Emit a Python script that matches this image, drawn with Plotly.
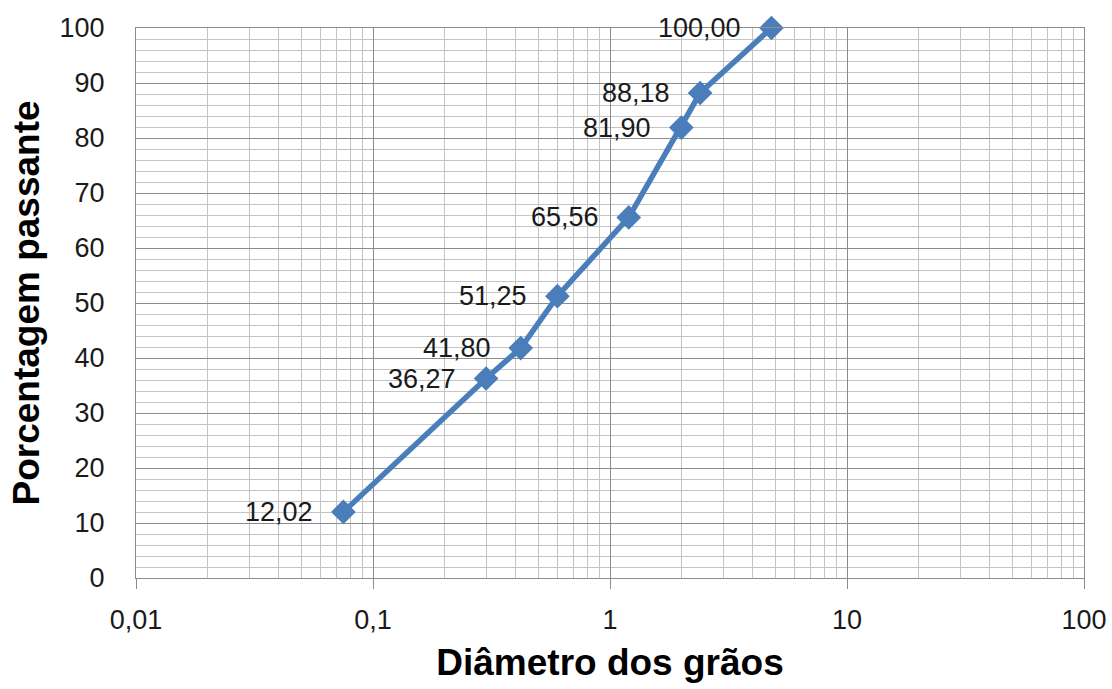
import numpy as np
import plotly.graph_objects as go

# Granulometric curve: sieve opening (mm) vs percentage passing
diametro = [0.075, 0.3, 0.42, 0.6, 1.2, 2.0, 2.4, 4.8]
passante = [12.02, 36.27, 41.80, 51.25, 65.56, 81.90, 88.18, 100.00]
rotulos = [f"{v:.2f}".replace(".", ",") for v in passante]

x_ticks = [0.01, 0.1, 1, 10, 100]
x_tick_text = ["0,01", "0,1", "1", "10", "100"]
y_ticks = list(range(0, 101, 10))

minor_x = [m * 10 ** e for e in range(-2, 2) for m in range(2, 10)]
minor_y = [v for v in range(0, 101, 2) if v % 10]

line_color = "#4a7ebb"
font_family = "Liberation Sans, Arial"

fig = go.Figure()
fig.add_trace(go.Scatter(
    x=diametro, y=passante,
    mode="lines+markers",
    line=dict(color=line_color, width=5.5),
    marker=dict(symbol="diamond", size=19, color=line_color),
    cliponaxis=False,
    showlegend=False,
))

# value labels placed to the left of each point (annotation x on a log axis is log10)
for xv, yv, txt in zip(diametro, passante, rotulos):
    fig.add_annotation(
        x=np.log10(xv), y=yv, xref="x", yref="y",
        text=txt, showarrow=False,
        xanchor="right", yanchor="middle",
        xshift=-28,
        font=dict(family=font_family, size=27, color="#1a1a1a"),
    )

tick_font = dict(family=font_family, size=27, color="#1a1a1a")
title_font = dict(family=font_family, size=37, color="#000000")

fig.update_xaxes(
    type="log",
    range=[-2, 2],
    tickvals=x_ticks,
    ticktext=x_tick_text,
    tickfont=tick_font,
    ticks="outside",
    ticklen=10,
    tickcolor="#8c8c8c",
    tickwidth=1,
    ticklabelstandoff=8,
    showgrid=True,
    gridcolor="#8c8c8c",
    gridwidth=1,
    minor=dict(tickvals=minor_x, showgrid=True, gridcolor="#c4c4c4", gridwidth=1.3, ticks=""),
    showline=True,
    linecolor="#8c8c8c",
    linewidth=1,
    mirror=True,
    zeroline=False,
    automargin=False,
    title=dict(text="<b>Diâmetro dos grãos</b>", font=title_font, standoff=14),
)
fig.update_yaxes(
    range=[0, 100],
    tickvals=y_ticks,
    tickfont=tick_font,
    ticks="",
    showgrid=True,
    gridcolor="#8c8c8c",
    gridwidth=1,
    minor=dict(tickvals=minor_y, showgrid=True, gridcolor="#c4c4c4", gridwidth=1.3, ticks=""),
    showline=True,
    linecolor="#8c8c8c",
    linewidth=1,
    mirror=True,
    zeroline=False,
    automargin=False,
    ticklabelstandoff=25,
    title=dict(text="<b>Porcentagem passante</b>", font=title_font, standoff=8),
)

fig.update_layout(
    width=1112,
    height=689,
    margin=dict(l=136, r=28, t=28, b=111),
    paper_bgcolor="#ffffff",
    plot_bgcolor="#ffffff",
)

fig.write_html("out.html")
